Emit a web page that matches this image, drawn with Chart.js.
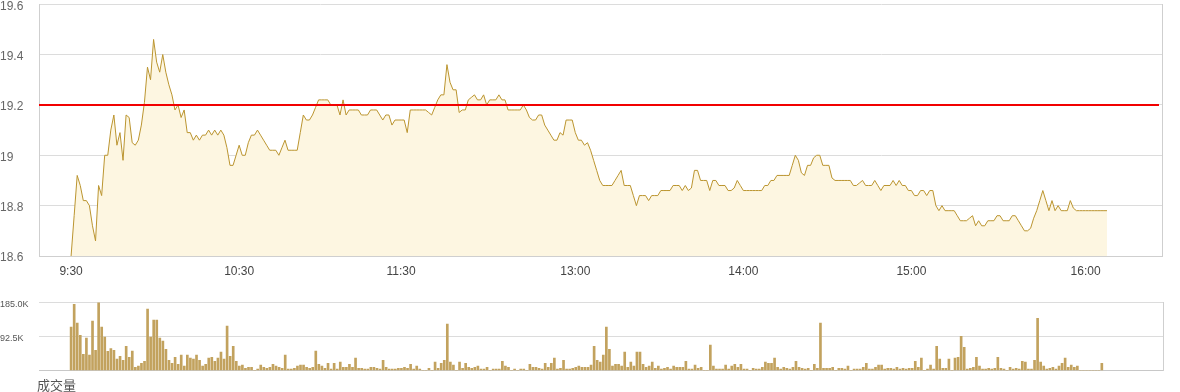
<!DOCTYPE html>
<html>
<head>
<meta charset="utf-8">
<script src="https://cdn.jsdelivr.net/npm/chart.js@4"></script>
<style>
  body { margin: 0; background: #fff; width: 1180px; height: 392px; overflow: hidden; position: relative; }
  #priceWrap { position: absolute; left: 0; top: -6px; width: 1180px; height: 292px; }
  #volWrap { position: absolute; left: 0; top: 294px; width: 1180px; height: 85px; }
  #volTitle { position: absolute; left: 37px; top: 375px; font: 13px "Noto Sans CJK SC", sans-serif; color: #555; }
</style>
</head>
<body>
<div id="priceWrap"><canvas id="priceChart"></canvas></div>
<div id="volWrap"><canvas id="volChart"></canvas></div>
<div id="volTitle">成交量</div>
<script>
const timeLabels = ['9:30', '10:30', '11:30', '13:00', '14:00', '15:00', '16:00'];
const tickIndex = [0, 55, 108, 165, 220, 275, 332];
const prevClose = 19.2;

const price = [
  18.60, 18.76, 18.92, 18.88, 18.82, 18.82, 18.80, 18.72, 18.66, 18.88,
  18.84, 19.00, 19.00, 19.10, 19.16, 19.04, 19.09, 18.98, 19.16, 19.15,
  19.05, 19.04, 19.06, 19.12, 19.21, 19.35, 19.30, 19.46, 19.37, 19.33,
  19.40, 19.33, 19.28, 19.24, 19.18, 19.20, 19.15, 19.18, 19.09, 19.09,
  19.06, 19.08, 19.06, 19.08, 19.08, 19.10, 19.08, 19.10, 19.08, 19.10,
  19.08, 19.03, 18.96, 18.96, 19.00, 19.04, 19.00, 19.00, 19.05, 19.08,
  19.08, 19.10, 19.08, 19.06, 19.04, 19.02, 19.02, 19.02, 19.00, 19.03,
  19.06, 19.02, 19.02, 19.02, 19.02, 19.09, 19.16, 19.14, 19.14, 19.16,
  19.19, 19.22, 19.22, 19.22, 19.22, 19.20, 19.20, 19.20, 19.16, 19.22,
  19.16, 19.18, 19.18, 19.18, 19.18, 19.16, 19.16, 19.16, 19.18, 19.18,
  19.18, 19.16, 19.14, 19.16, 19.16, 19.12, 19.14, 19.14, 19.14, 19.14,
  19.09, 19.18, 19.18, 19.18, 19.18, 19.18, 19.18, 19.17, 19.16, 19.19,
  19.22, 19.24, 19.24, 19.36, 19.29, 19.26, 19.26, 19.17, 19.18, 19.18,
  19.22, 19.23, 19.24, 19.22, 19.22, 19.24, 19.20, 19.22, 19.22, 19.22,
  19.24, 19.22, 19.22, 19.18, 19.18, 19.18, 19.18, 19.18, 19.20, 19.18,
  19.15, 19.14, 19.14, 19.16, 19.16, 19.12, 19.10, 19.08, 19.06, 19.06,
  19.09, 19.08, 19.14, 19.14, 19.14, 19.09, 19.06, 19.06, 19.04, 19.05,
  19.02, 18.98, 18.94, 18.90, 18.88, 18.88, 18.88, 18.88, 18.90, 18.92,
  18.94, 18.88, 18.88, 18.88, 18.84, 18.80, 18.84, 18.84, 18.84, 18.82,
  18.84, 18.84, 18.84, 18.86, 18.86, 18.86, 18.86, 18.88, 18.88, 18.88,
  18.86, 18.88, 18.86, 18.87, 18.94, 18.94, 18.90, 18.90, 18.90, 18.86,
  18.90, 18.90, 18.88, 18.88, 18.88, 18.86, 18.86, 18.87, 18.90, 18.88,
  18.86, 18.86, 18.86, 18.86, 18.86, 18.86, 18.86, 18.88, 18.88, 18.90,
  18.90, 18.92, 18.92, 18.92, 18.92, 18.92, 18.96, 19.00, 18.98, 18.93,
  18.92, 18.96, 18.96, 18.99, 19.00, 19.00, 18.96, 18.96, 18.96, 18.91,
  18.90, 18.90, 18.90, 18.90, 18.90, 18.90, 18.88, 18.88, 18.89, 18.90,
  18.88, 18.88, 18.88, 18.90, 18.88, 18.86, 18.88, 18.88, 18.88, 18.90,
  18.88, 18.90, 18.88, 18.88, 18.86, 18.86, 18.84, 18.84, 18.86, 18.86,
  18.84, 18.86, 18.86, 18.80, 18.78, 18.80, 18.78, 18.78, 18.78, 18.78,
  18.76, 18.74, 18.74, 18.74, 18.75, 18.76, 18.72, 18.74, 18.72, 18.72,
  18.74, 18.74, 18.74, 18.76, 18.76, 18.74, 18.74, 18.74, 18.76, 18.76,
  18.74, 18.72, 18.70, 18.70, 18.71, 18.75, 18.78, 18.82, 18.86, 18.82,
  18.78, 18.82, 18.78, 18.80, 18.78, 18.78, 18.78, 18.82, 18.79, 18.78,
  18.78, 18.78, 18.78, 18.78, 18.78, 18.78, 18.78, 18.78, 18.78, 18.78
];

// volume in thousands
const volume = [
  118, 180, 129, 96, 44, 88, 42, 134, 55, 185,
  118, 91, 52, 60, 55, 31, 39, 28, 66, 36,
  53, 9, 12, 20, 25, 167, 91, 137, 137, 88,
  80, 58, 28, 20, 36, 17, 42, 12, 42, 34,
  31, 42, 28, 12, 17, 34, 36, 25, 34, 50,
  31, 121, 39, 66, 25, 12, 15, 6, 9, 9,
  0, 4, 15, 9, 6, 9, 17, 12, 9, 6,
  42, 4, 4, 6, 12, 15, 15, 9, 6, 9,
  53, 17, 12, 6, 20, 4, 20, 4, 23, 9,
  9, 17, 9, 34, 6, 6, 4, 4, 9, 9,
  6, 4, 28, 9, 4, 4, 4, 6,
  6, 9, 6, 17, 4, 12, 4, 0, 0, 6,
  0, 23, 6, 20, 28, 126, 23, 15, 0, 23,
  6, 20, 9, 6, 9, 12, 4, 4, 9, 0,
  4, 4, 4, 25, 12, 9, 0, 4, 0, 4,
  4, 0, 17, 9, 9, 6, 4, 20, 9, 20,
  34, 4, 6, 28, 4, 4, 6, 9, 12, 9,
  9, 9, 15, 66, 28, 23, 42, 118, 58, 12,
  17, 17, 12, 50, 9, 23, 12, 50, 50, 17,
  9, 12, 23, 6, 12, 4, 6, 9, 4, 12,
  9, 9, 9, 25, 4, 4, 15, 6, 9, 0,
  0, 69, 12, 4, 4, 4, 15, 4, 12, 17,
  9, 17, 4, 4, 0, 6, 4, 4, 9, 23,
  20, 20, 34, 9, 4, 9, 6, 4, 9, 25,
  9,
  6, 4, 6, 0, 17, 6, 129, 6, 6, 6,
  9, 0, 6, 6, 4, 12, 0, 4, 4, 4,
  9, 20, 4, 4, 9, 15, 15, 4, 6, 6,
  4, 9, 4, 6, 4, 6, 6, 25, 9, 34,
  0, 4, 15, 4, 66, 31, 6, 6, 31, 0,
  34, 36, 93, 63, 4, 6, 9, 36, 12, 4,
  4, 6, 4, 6, 36, 6, 4, 0, 9, 4,
  6, 4, 25, 23, 4, 4, 28, 142, 23, 12,
  4, 6, 9, 4, 12, 20, 34, 9, 15, 9,
  12,
  0, 0, 0, 0, 0, 0, 0, 20
];

Chart.defaults.font.family = '"Liberation Sans", Arial, sans-serif';
Chart.defaults.animation = false;

const xMin = -10.5;
const xMax = 357;

// right border of the plot box
const frameRight = {
  id: 'frameRight',
  afterDraw(chart) {
    const a = chart.chartArea, ctx = chart.ctx;
    ctx.save();
    ctx.fillStyle = '#cfcfcf';
    ctx.fillRect(Math.round(a.right), Math.round(a.top), 1, Math.round(a.bottom - a.top) + 1);
    ctx.restore();
  }
};

// previous close line
const closeLine = {
  id: 'closeLine',
  afterDatasetsDraw(chart) {
    const a = chart.chartArea, ctx = chart.ctx;
    const y = Math.round(chart.scales.y.getPixelForValue(prevClose));
    ctx.save();
    ctx.fillStyle = '#f20000';
    ctx.fillRect(a.left, y - 1, a.right - 3 - a.left, 2);
    ctx.restore();
  }
};

new Chart(document.getElementById('priceChart'), {
  type: 'line',
  data: {
    datasets: [{
      data: price.map((p, i) => ({ x: i, y: p })),
      borderColor: '#bb9530',
      borderWidth: 1,
      backgroundColor: '#fdf6e1',
      fill: 'start',
      pointRadius: 0,
      tension: 0
    }]
  },
  options: {
    responsive: true,
    maintainAspectRatio: false,
    layout: { padding: { top: 0, right: 18, bottom: 0, left: 0 } },
    plugins: { legend: { display: false }, tooltip: { enabled: false } },
    scales: {
      x: {
        type: 'linear',
        min: xMin,
        max: xMax,
        afterBuildTicks: s => { s.ticks = tickIndex.map(v => ({ value: v })); },
        afterFit: s => { s.height = 30; },
        ticks: {
          autoSkip: false,
          maxRotation: 0,
          padding: 8,
          color: '#444',
          font: { size: 12 },
          callback: (v) => timeLabels[tickIndex.indexOf(v)]
        },
        grid: { display: false, drawTicks: false },
        border: { display: true, color: '#cfcfcf' }
      },
      y: {
        min: 18.6,
        max: 19.6,
        afterFit: s => { s.width = 39; },
        ticks: {
          stepSize: 0.2,
          crossAlign: 'far',
          labelOffset: 2,
          color: '#666',
          font: { size: 12 },
          callback: v => String(Number(v.toFixed(1)))
        },
        grid: { color: '#dcdcdc', drawTicks: false },
        border: { display: true, color: '#cfcfcf' }
      }
    }
  },
  plugins: [frameRight, closeLine]
});

new Chart(document.getElementById('volChart'), {
  type: 'bar',
  data: {
    datasets: [{
      data: volume.map((v, i) => ({ x: i, y: v })),
      backgroundColor: '#c2a25e',
      barThickness: 2,
      borderWidth: 0
    }]
  },
  options: {
    responsive: true,
    maintainAspectRatio: false,
    layout: { padding: { top: 0, right: 17, bottom: 0, left: 0 } },
    plugins: { legend: { display: false }, tooltip: { enabled: false } },
    scales: {
      x: {
        type: 'linear',
        min: xMin,
        max: xMax,
        offset: false,
        afterFit: s => { s.height = 0; },
        ticks: { display: false },
        grid: { display: false, drawTicks: false },
        border: { display: true, color: '#c8c8c8' }
      },
      y: {
        min: 0,
        max: 185,
        afterFit: s => { s.width = 39; },
        ticks: {
          stepSize: 92.5,
          crossAlign: 'far',
          labelOffset: 2,
          color: '#555',
          font: { size: 9 },
          callback: v => v === 0 ? '' : v.toFixed(1) + 'K'
        },
        grid: { color: '#dcdcdc', drawTicks: false },
        border: { display: false }
      }
    }
  },
  plugins: [frameRight]
});
</script>
</body>
</html>
